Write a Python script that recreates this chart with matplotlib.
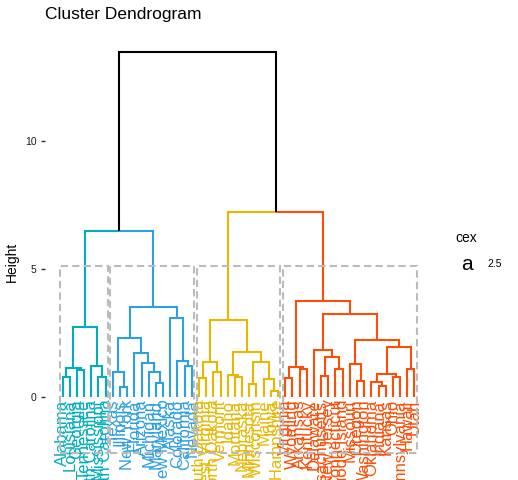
import matplotlib
matplotlib.use("Agg")
import matplotlib.pyplot as plt
from matplotlib.patches import Rectangle
import numpy as np

plt.rcParams['font.family'] = ['Liberation Sans', 'DejaVu Sans']

# leaf order of the dendrogram (left to right)
states = ["Alabama", "Louisiana", "Georgia", "Tennessee", "North Carolina", "Mississippi",
          "South Carolina",
          "Texas", "Illinois", "New York", "Florida", "Arizona", "Michigan", "Maryland",
          "New Mexico", "Alaska", "Colorado", "California", "Nevada",
          "South Dakota", "West Virginia", "North Dakota", "Vermont", "Idaho", "Montana",
          "Nebraska", "Minnesota", "Wisconsin", "Maine", "Iowa", "New Hampshire",
          "Virginia", "Wyoming", "Arkansas", "Kentucky", "Delaware", "Massachusetts",
          "New Jersey", "Connecticut", "Rhode Island", "Missouri", "Oregon", "Washington",
          "Oklahoma", "Indiana", "Kansas", "Ohio", "Pennsylvania", "Hawaii", "Utah"]

cluster_sizes = [7, 12, 12, 19]
cluster_colors = ["#00AFBB", "#2E9FDF", "#E7B800", "#FC4E07"]

# merge table like R's hclust: negative = leaf number, positive = earlier merge row
merge_left = [-1, -3, 1, -6, -5, 3,
              -9, -8, -14, -13, -12, -11, 8, -18, -17, -16, 13,
              -20, -22, 18, -25, -24, -27, -30, -29, 23, 22, 20,
              -32, -34, 29, -37, -39, 32, -36, -42, -41, -45, -44, -47, 39, -49, 41, 37, 35, 31,
              6, 28, 47]
merge_right = [-2, -4, 2, -7, 4, 5,
               -10, 7, -15, 9, 10, 11, 12, -19, 14, 15, 16,
               -21, -23, 19, -26, 21, -28, -31, 24, 25, 26, 27,
               -33, -35, 30, -38, -40, 33, 34, -43, 36, -46, 38, -48, 40, -50, 42, 43, 44, 45,
               17, 46, 48]
merge_height = [0.79, 1.05, 1.12, 0.79, 1.21, 2.75,
                0.40, 0.96, 0.56, 0.96, 1.32, 1.73, 2.29, 1.22, 1.42, 3.07, 3.52,
                0.73, 0.99, 1.36, 0.80, 0.86, 0.51, 0.25, 0.69, 1.38, 1.77, 3.00,
                0.73, 1.08, 1.18, 0.82, 1.08, 1.55, 1.84, 0.64, 1.29, 0.44, 0.60, 0.79, 0.89,
                1.09, 1.97, 2.23, 3.24, 3.76,
                6.48, 7.23, 13.48]

k = 4
n = len(states)
leaf_cluster = np.repeat(np.arange(k), cluster_sizes)

fig = plt.figure(figsize=(5.18, 4.8), dpi=100)
ax = fig.add_axes([45 / 518, 0, (432 - 45) / 518, (480 - 35) / 480])

node_x, node_y, node_cl = {}, {}, {}


def get(ref):
    # position, height and cluster of a leaf (negative) or merged node (positive)
    if ref < 0:
        i = abs(ref)
        return float(i), 0.0, leaf_cluster[i - 1]
    return node_x[ref], node_y[ref], node_cl[ref]


for m, (l, r, h) in enumerate(zip(merge_left, merge_right, merge_height), start=1):
    lx, ly, lc = get(l)
    rx, ry, rc = get(r)
    px = (lx + rx) / 2
    node_x[m], node_y[m] = px, h
    node_cl[m] = lc if lc == rc else -1
    for cx, cy, cc in [(lx, ly, lc), (rx, ry, rc)]:
        col = cluster_colors[cc] if cc >= 0 else "black"
        ax.plot([cx, cx, px], [cy, h, h], color=col, lw=1.5,
                solid_capstyle='butt', solid_joinstyle='miter', zorder=2)

# leaf labels
for i, name in enumerate(states, start=1):
    ax.text(i, -0.1, name, rotation=90, ha='center', va='top', fontsize=12,
            color=cluster_colors[leaf_cluster[i - 1]], zorder=3)

# dashed rectangles around the k clusters
top_heights = sorted(merge_height, reverse=True)
rect_top = (top_heights[k - 2] + top_heights[k - 1]) / 2
rect_bottom = -2.19
ends = np.cumsum(cluster_sizes)
starts = ends - np.array(cluster_sizes)
for s, e in zip(starts, ends):
    ax.add_patch(Rectangle((s + 0.66, rect_bottom), (e + 0.33) - (s + 0.66),
                           rect_top - rect_bottom, fill=False, ec='#BBBBBB', lw=1.5,
                           ls=(0, (3.5, 2)), zorder=4))

ax.set_xlim(-1.45, 52.45)
ax.set_ylim(-(480 - 397) / 25.6, (397 - 35) / 25.6)
for sp in ax.spines.values():
    sp.set_visible(False)
ax.set_xticks([])
ax.set_yticks([0, 5, 10])
ax.tick_params(axis='y', labelsize=7.5, length=3, width=1, color='#333333',
               labelcolor='#1a1a1a', pad=3)

fig.text(45 / 518, 1 - 15 / 480, "Cluster Dendrogram", fontsize=12.5, ha='left', va='center')
fig.text(12 / 518, 1 - 262 / 480, "Height", fontsize=10, rotation=90, ha='center', va='center')

# legend
fig.text(455 / 518, 1 - 238 / 480, "cex", fontsize=10, ha='left', va='center')
fig.text(467 / 518, 1 - 264 / 480, "a", fontsize=15, ha='center', va='center')
fig.text(487 / 518, 1 - 264 / 480, "2.5", fontsize=7.5, ha='left', va='center')

fig.savefig("out.png", dpi=100)
